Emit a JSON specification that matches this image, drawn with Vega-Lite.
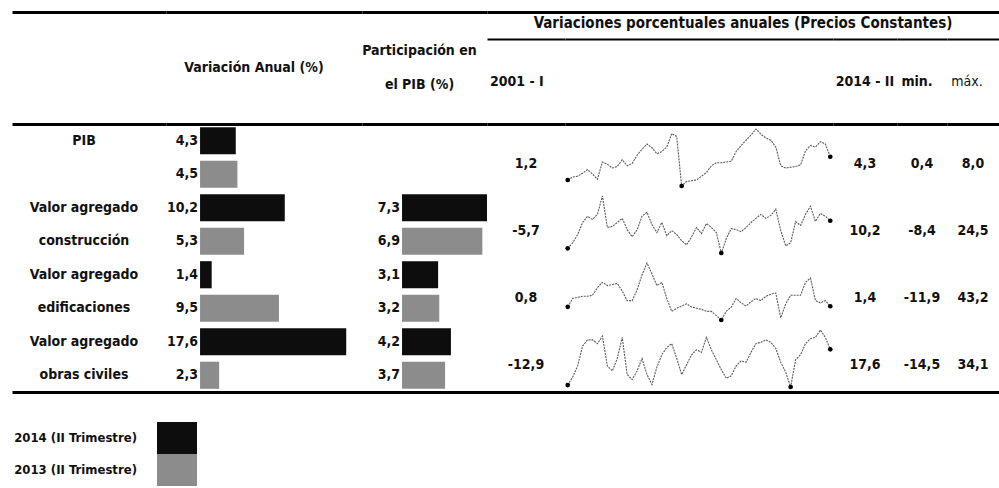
{
  "$schema": "https://vega.github.io/schema/vega-lite/v6.json",
  "padding": {"left": 12, "top": 12, "right": 0, "bottom": 0},
  "background": "white",
  "spacing": 0,
  "align": "each",
  "config": {
    "view": {"stroke": null},
    "text": {"font": "DejaVu Sans Condensed, DejaVu Sans, sans-serif", "fontSize": 14, "fontWeight": "bold", "color": "#111", "baseline": "middle"},
    "axis": {"domainColor": "#000", "domainWidth": 3, "ticks": false, "labels": false, "grid": false},
    "locale": {"number": {"decimal": ",", "thousands": ".", "grouping": [3], "currency": ["", ""], "minus": "-"}}
  },
  "datasets": {
    "hdr": [
      {"c": "c0", "txt": ""},
      {"c": "c1", "txt": "Variación Anual (%)"},
      {"c": "c2", "txt": ["Participación en", "el PIB (%)"]},
      {"c": "hr", "txt": "Variaciones porcentuales anuales  (Precios Constantes)"},
      {"c": "c3", "txt": "2001 - I"},
      {"c": "c4", "txt": ""},
      {"c": "c5", "txt": "2014 - II"},
      {"c": "c6", "txt": "min."},
      {"c": "c7", "txt": "máx."}
    ],
    "rows": [
      {"k": "r1", "label": "PIB", "anio": "2014 (II Trimestre)", "var": 4.3},
      {"k": "r2", "label": "", "anio": "2013 (II Trimestre)", "var": 4.5},
      {"k": "r3", "label": "Valor agregado", "anio": "2014 (II Trimestre)", "var": 10.2, "part": 7.3},
      {"k": "r4", "label": "construcción", "anio": "2013 (II Trimestre)", "var": 5.3, "part": 6.9},
      {"k": "r5", "label": "Valor agregado", "anio": "2014 (II Trimestre)", "var": 1.4, "part": 3.1},
      {"k": "r6", "label": "edificaciones", "anio": "2013 (II Trimestre)", "var": 9.5, "part": 3.2},
      {"k": "r7", "label": "Valor agregado", "anio": "2014 (II Trimestre)", "var": 17.6, "part": 4.2},
      {"k": "r8", "label": "obras civiles", "anio": "2013 (II Trimestre)", "var": 2.3, "part": 3.7}
    ],
    "sv": [
      {"s": "PIB", "ini": 1.2, "fin": 4.3, "minimo": 0.4, "maximo": 8.0},
      {"s": "con", "ini": -5.7, "fin": 10.2, "minimo": -8.4, "maximo": 24.5},
      {"s": "edi", "ini": 0.8, "fin": 1.4, "minimo": -11.9, "maximo": 43.2},
      {"s": "obr", "ini": -12.9, "fin": 17.6, "minimo": -14.5, "maximo": 34.1}
    ],
    "leg": [{"anio": "2014 (II Trimestre)"}, {"anio": "2013 (II Trimestre)"}],
    "spark": [
      {"s":"PIB","t":0,"v":1.2},{"s":"PIB","t":1,"v":1.6},{"s":"PIB","t":2,"v":1.7},{"s":"PIB","t":3,"v":2.1},{"s":"PIB","t":4,"v":2.6},{"s":"PIB","t":5,"v":2.0},{"s":"PIB","t":6,"v":1.3},{"s":"PIB","t":7,"v":3.6},{"s":"PIB","t":8,"v":3.3},{"s":"PIB","t":9,"v":2.8},{"s":"PIB","t":10,"v":3.0},{"s":"PIB","t":11,"v":3.9},{"s":"PIB","t":12,"v":3.1},{"s":"PIB","t":13,"v":3.4},{"s":"PIB","t":14,"v":4.5},{"s":"PIB","t":15,"v":5.3},{"s":"PIB","t":16,"v":6.0},{"s":"PIB","t":17,"v":5.5},{"s":"PIB","t":18,"v":4.7},{"s":"PIB","t":19,"v":5.0},{"s":"PIB","t":20,"v":5.6},{"s":"PIB","t":21,"v":7.4},{"s":"PIB","t":22,"v":7.0},{"s":"PIB","t":23,"v":0.4},{"s":"PIB","t":24,"v":1.0},{"s":"PIB","t":25,"v":1.1},{"s":"PIB","t":26,"v":1.2},{"s":"PIB","t":27,"v":1.7},{"s":"PIB","t":28,"v":2.2},{"s":"PIB","t":29,"v":3.1},{"s":"PIB","t":30,"v":3.5},{"s":"PIB","t":31,"v":3.5},{"s":"PIB","t":32,"v":3.6},{"s":"PIB","t":33,"v":3.7},{"s":"PIB","t":34,"v":5.0},{"s":"PIB","t":35,"v":5.8},{"s":"PIB","t":36,"v":6.5},{"s":"PIB","t":37,"v":7.2},{"s":"PIB","t":38,"v":8.0},{"s":"PIB","t":39,"v":7.3},{"s":"PIB","t":40,"v":6.8},{"s":"PIB","t":41,"v":6.5},{"s":"PIB","t":42,"v":5.6},{"s":"PIB","t":43,"v":3.1},{"s":"PIB","t":44,"v":2.8},{"s":"PIB","t":45,"v":2.9},{"s":"PIB","t":46,"v":3.0},{"s":"PIB","t":47,"v":3.2},{"s":"PIB","t":48,"v":5.1},{"s":"PIB","t":49,"v":5.8},{"s":"PIB","t":50,"v":5.6},{"s":"PIB","t":51,"v":6.3},{"s":"PIB","t":52,"v":6.0},{"s":"PIB","t":53,"v":4.3},
      {"s":"con","t":0,"v":-5.7},{"s":"con","t":1,"v":-2.5},{"s":"con","t":2,"v":2.2},{"s":"con","t":3,"v":9.2},{"s":"con","t":4,"v":12.8},{"s":"con","t":5,"v":11.0},{"s":"con","t":6,"v":13.9},{"s":"con","t":7,"v":24.5},{"s":"con","t":8,"v":6.3},{"s":"con","t":9,"v":6.9},{"s":"con","t":10,"v":9.2},{"s":"con","t":11,"v":11.6},{"s":"con","t":12,"v":5.1},{"s":"con","t":13,"v":1.0},{"s":"con","t":14,"v":5.0},{"s":"con","t":15,"v":12.8},{"s":"con","t":16,"v":15.1},{"s":"con","t":17,"v":8.0},{"s":"con","t":18,"v":3.4},{"s":"con","t":19,"v":9.2},{"s":"con","t":20,"v":1.6},{"s":"con","t":21,"v":4.5},{"s":"con","t":22,"v":2.2},{"s":"con","t":23,"v":-1.3},{"s":"con","t":24,"v":-3.7},{"s":"con","t":25,"v":1.0},{"s":"con","t":26,"v":6.3},{"s":"con","t":27,"v":2.8},{"s":"con","t":28,"v":8.6},{"s":"con","t":29,"v":6.3},{"s":"con","t":30,"v":3.4},{"s":"con","t":31,"v":-8.4},{"s":"con","t":32,"v":-0.2},{"s":"con","t":33,"v":5.7},{"s":"con","t":34,"v":5.1},{"s":"con","t":35,"v":3.9},{"s":"con","t":36,"v":6.3},{"s":"con","t":37,"v":9.2},{"s":"con","t":38,"v":11.6},{"s":"con","t":39,"v":13.9},{"s":"con","t":40,"v":11.6},{"s":"con","t":41,"v":13.3},{"s":"con","t":42,"v":16.9},{"s":"con","t":43,"v":4.5},{"s":"con","t":44,"v":-4.3},{"s":"con","t":45,"v":-2.5},{"s":"con","t":46,"v":9.8},{"s":"con","t":47,"v":7.5},{"s":"con","t":48,"v":13.9},{"s":"con","t":49,"v":18.6},{"s":"con","t":50,"v":9.8},{"s":"con","t":51,"v":14.5},{"s":"con","t":52,"v":12.8},{"s":"con","t":53,"v":10.2},
      {"s":"edi","t":0,"v":0.8},{"s":"edi","t":1,"v":8.9},{"s":"edi","t":2,"v":10.0},{"s":"edi","t":3,"v":11.0},{"s":"edi","t":4,"v":11.0},{"s":"edi","t":5,"v":12.0},{"s":"edi","t":6,"v":19.3},{"s":"edi","t":7,"v":24.5},{"s":"edi","t":8,"v":21.4},{"s":"edi","t":9,"v":22.4},{"s":"edi","t":10,"v":23.5},{"s":"edi","t":11,"v":16.2},{"s":"edi","t":12,"v":6.8},{"s":"edi","t":13,"v":6.8},{"s":"edi","t":14,"v":17.2},{"s":"edi","t":15,"v":31.8},{"s":"edi","t":16,"v":43.2},{"s":"edi","t":17,"v":32.8},{"s":"edi","t":18,"v":21.4},{"s":"edi","t":19,"v":24.5},{"s":"edi","t":20,"v":8.9},{"s":"edi","t":21,"v":-3.6},{"s":"edi","t":22,"v":-0.5},{"s":"edi","t":23,"v":1.6},{"s":"edi","t":24,"v":3.7},{"s":"edi","t":25,"v":0.6},{"s":"edi","t":26,"v":-0.5},{"s":"edi","t":27,"v":-1.5},{"s":"edi","t":28,"v":-3.6},{"s":"edi","t":29,"v":-3.6},{"s":"edi","t":30,"v":-7.7},{"s":"edi","t":31,"v":-11.9},{"s":"edi","t":32,"v":-3.6},{"s":"edi","t":33,"v":0.6},{"s":"edi","t":34,"v":8.9},{"s":"edi","t":35,"v":4.7},{"s":"edi","t":36,"v":1.6},{"s":"edi","t":37,"v":5.8},{"s":"edi","t":38,"v":8.9},{"s":"edi","t":39,"v":6.8},{"s":"edi","t":40,"v":11.0},{"s":"edi","t":41,"v":13.1},{"s":"edi","t":42,"v":14.1},{"s":"edi","t":43,"v":-9.8},{"s":"edi","t":44,"v":3.7},{"s":"edi","t":45,"v":12.0},{"s":"edi","t":46,"v":12.0},{"s":"edi","t":47,"v":12.0},{"s":"edi","t":48,"v":24.5},{"s":"edi","t":49,"v":28.7},{"s":"edi","t":50,"v":6.8},{"s":"edi","t":51,"v":4.7},{"s":"edi","t":52,"v":6.8},{"s":"edi","t":53,"v":1.4},
      {"s":"obr","t":0,"v":-12.9},{"s":"obr","t":1,"v":-6.0},{"s":"obr","t":2,"v":3.5},{"s":"obr","t":3,"v":20.4},{"s":"obr","t":4,"v":25.7},{"s":"obr","t":5,"v":25.7},{"s":"obr","t":6,"v":22.5},{"s":"obr","t":7,"v":28.8},{"s":"obr","t":8,"v":3.5},{"s":"obr","t":9,"v":-0.8},{"s":"obr","t":10,"v":9.8},{"s":"obr","t":11,"v":27.8},{"s":"obr","t":12,"v":-3.9},{"s":"obr","t":13,"v":-8.2},{"s":"obr","t":14,"v":-0.8},{"s":"obr","t":15,"v":9.8},{"s":"obr","t":16,"v":-3.9},{"s":"obr","t":17,"v":-12.4},{"s":"obr","t":18,"v":2.4},{"s":"obr","t":19,"v":13.0},{"s":"obr","t":20,"v":19.3},{"s":"obr","t":21,"v":22.5},{"s":"obr","t":22,"v":9.8},{"s":"obr","t":23,"v":-3.9},{"s":"obr","t":24,"v":4.5},{"s":"obr","t":25,"v":13.0},{"s":"obr","t":26,"v":17.2},{"s":"obr","t":27,"v":15.1},{"s":"obr","t":28,"v":27.8},{"s":"obr","t":29,"v":17.2},{"s":"obr","t":30,"v":8.8},{"s":"obr","t":31,"v":0.3},{"s":"obr","t":32,"v":-7.1},{"s":"obr","t":33,"v":-5.0},{"s":"obr","t":34,"v":3.5},{"s":"obr","t":35,"v":7.7},{"s":"obr","t":36,"v":6.6},{"s":"obr","t":37,"v":15.1},{"s":"obr","t":38,"v":22.5},{"s":"obr","t":39,"v":23.6},{"s":"obr","t":40,"v":25.7},{"s":"obr","t":41,"v":23.6},{"s":"obr","t":42,"v":18.3},{"s":"obr","t":43,"v":6.6},{"s":"obr","t":44,"v":-1.8},{"s":"obr","t":45,"v":-14.5},{"s":"obr","t":46,"v":8.8},{"s":"obr","t":47,"v":13.0},{"s":"obr","t":48,"v":22.5},{"s":"obr","t":49,"v":26.7},{"s":"obr","t":50,"v":27.8},{"s":"obr","t":51,"v":34.1},{"s":"obr","t":52,"v":27.8},{"s":"obr","t":53,"v":17.6}
    ]
  },
  "vconcat": [
    {
      "hconcat": [
        {"width": 154, "height": 112, "data": {"name": "hdr"}, "transform": [{"filter": "datum.c === 'c0'"}],
         "mark": {"type": "text"},
         "encoding": {"x": {"datum": 0.5, "type": "quantitative", "scale": {"domain": [0, 1]}, "axis": {"orient": "top", "title": null}}, "text": {"field": "txt"}}},
        {"width": 196, "height": 112, "data": {"name": "hdr"}, "transform": [{"filter": "datum.c === 'c1'"}],
         "mark": {"type": "text", "dx": -10},
         "encoding": {"x": {"datum": 0.5, "type": "quantitative", "scale": {"domain": [0, 1]}, "axis": {"orient": "top", "title": null}}, "text": {"field": "txt"}}},
        {"width": 125, "height": 112, "data": {"name": "hdr"}, "transform": [{"filter": "datum.c === 'c2'"}],
         "mark": {"type": "text", "dx": -5, "dy": -17, "lineHeight": 34},
         "encoding": {"x": {"datum": 0.5, "type": "quantitative", "scale": {"domain": [0, 1]}, "axis": {"orient": "top", "title": null}}, "text": {"field": "txt"}}},
        {
          "vconcat": [
            {"width": 512, "height": 27, "data": {"name": "hdr"}, "transform": [{"filter": "datum.c === 'hr'"}],
             "mark": {"type": "text", "dy": -3, "fontSize": 15},
             "encoding": {"x": {"datum": 0.5, "type": "quantitative", "scale": {"domain": [0, 1]}, "axis": {"orient": "top", "title": null}}, "text": {"field": "txt"}}},
            {
              "hconcat": [
                {"width": 78, "height": 85, "data": {"name": "hdr"}, "transform": [{"filter": "datum.c === 'c3'"}],
                 "mark": {"type": "text", "align": "left", "dx": 3},
                 "encoding": {"x": {"datum": 0, "type": "quantitative", "scale": {"domain": [0, 1]}, "axis": {"orient": "top", "title": null, "domainWidth": 2}}, "text": {"field": "txt"}}},
                {"width": 268, "height": 85, "data": {"name": "hdr"}, "transform": [{"filter": "datum.c === 'c4'"}],
                 "mark": {"type": "text"},
                 "encoding": {"x": {"datum": 0.5, "type": "quantitative", "scale": {"domain": [0, 1]}, "axis": {"orient": "top", "title": null, "domainWidth": 2}}, "text": {"field": "txt"}}},
                {"width": 64, "height": 85, "data": {"name": "hdr"}, "transform": [{"filter": "datum.c === 'c5'"}],
                 "mark": {"type": "text"},
                 "encoding": {"x": {"datum": 0.5, "type": "quantitative", "scale": {"domain": [0, 1]}, "axis": {"orient": "top", "title": null, "domainWidth": 2}}, "text": {"field": "txt"}}},
                {"width": 50, "height": 85, "data": {"name": "hdr"}, "transform": [{"filter": "datum.c === 'c6'"}],
                 "mark": {"type": "text", "dx": -5},
                 "encoding": {"x": {"datum": 0.5, "type": "quantitative", "scale": {"domain": [0, 1]}, "axis": {"orient": "top", "title": null, "domainWidth": 2}}, "text": {"field": "txt"}}},
                {"width": 52, "height": 85, "data": {"name": "hdr"}, "transform": [{"filter": "datum.c === 'c7'"}],
                 "mark": {"type": "text", "dx": -6, "fontWeight": "normal"},
                 "encoding": {"x": {"datum": 0.5, "type": "quantitative", "scale": {"domain": [0, 1]}, "axis": {"orient": "top", "title": null, "domainWidth": 2}}, "text": {"field": "txt"}}}
              ],
              "spacing": 0, "align": "each"
            }
          ],
          "spacing": 0, "align": "each"
        }
      ],
      "spacing": 0, "align": "each"
    },
    {
      "hconcat": [
        {"width": 154, "height": 268, "data": {"name": "rows"},
         "mark": {"type": "text", "dx": -5},
         "encoding": {
           "x": {"datum": 0.5, "type": "quantitative", "scale": {"domain": [0, 1]}, "axis": {"orient": "top", "title": null}},
           "y": {"field": "k", "type": "nominal", "scale": {"type": "point", "domain": ["r1","r2","r3","r4","r5","r6","r7","r8"], "padding": 0.5}, "axis": null},
           "text": {"field": "label"}}},
        {"width": 196, "height": 268, "data": {"name": "rows"},
         "encoding": {"y": {"field": "k", "type": "nominal", "scale": {"type": "band", "domain": ["r1","r2","r3","r4","r5","r6","r7","r8"], "paddingInner": 0.19, "paddingOuter": 0.095}, "axis": null}},
         "layer": [
           {"mark": {"type": "bar"},
            "encoding": {
              "x": {"field": "var", "type": "quantitative", "scale": {"domain": [-4.1, 19.5], "nice": false, "zero": false}, "axis": {"orient": "top", "title": null}},
              "color": {"field": "anio", "type": "nominal", "scale": {"domain": ["2014 (II Trimestre)", "2013 (II Trimestre)"], "range": ["#0d0d0d", "#8c8c8c"]}, "legend": null}}},
           {"mark": {"type": "text", "align": "right", "dx": -2},
            "encoding": {"x": {"datum": 0, "type": "quantitative"}, "text": {"field": "var", "type": "quantitative", "format": ".1f"}}}
         ]},
        {"width": 125, "height": 268, "data": {"name": "rows"},
         "transform": [{"filter": "isValid(datum.part)"}],
         "encoding": {"y": {"field": "k", "type": "nominal", "scale": {"type": "band", "domain": ["r1","r2","r3","r4","r5","r6","r7","r8"], "paddingInner": 0.19, "paddingOuter": 0.095}, "axis": null}},
         "layer": [
           {"mark": {"type": "bar"},
            "encoding": {
              "x": {"field": "part", "type": "quantitative", "scale": {"domain": [-3.44, 7.3], "nice": false, "zero": false}, "axis": {"orient": "top", "title": null}},
              "color": {"field": "anio", "type": "nominal", "scale": {"domain": ["2014 (II Trimestre)", "2013 (II Trimestre)"], "range": ["#0d0d0d", "#8c8c8c"]}, "legend": null}}},
           {"mark": {"type": "text", "align": "right", "dx": -2},
            "encoding": {"x": {"datum": 0, "type": "quantitative"}, "text": {"field": "part", "type": "quantitative", "format": ".1f"}}}
         ]},
        {"width": 78, "height": 268, "data": {"name": "sv"},
         "mark": {"type": "text", "dy": 6},
         "encoding": {
           "x": {"datum": 0.5, "type": "quantitative", "scale": {"domain": [0, 1]}, "axis": {"orient": "top", "title": null}},
           "y": {"field": "s", "type": "nominal", "scale": {"type": "point", "domain": ["PIB","con","edi","obr"], "padding": 0.5}, "axis": null},
           "text": {"field": "ini", "type": "quantitative", "format": ".1f"}}},
        {
          "vconcat": [
            {"width": 268, "height": 67, "data": {"name": "spark"}, "transform": [{"filter": "datum.s === 'PIB'"}],
             "encoding": {
               "x": {"field": "t", "type": "quantitative", "scale": {"domain": [-0.55, 53.55], "nice": false, "zero": false}, "axis": {"orient": "top", "title": null}},
               "y": {"field": "v", "type": "quantitative", "scale": {"zero": false, "nice": false, "padding": 5}, "axis": null}},
             "layer": [
               {"mark": {"type": "line", "color": "#5a5a5a", "strokeWidth": 1.1, "strokeDash": [2, 1]}, "encoding": {}},
               {"transform": [{"joinaggregate": [{"op": "min", "field": "v", "as": "vmin"}, {"op": "min", "field": "t", "as": "t0"}, {"op": "max", "field": "t", "as": "t1"}]}, {"filter": "datum.v === datum.vmin || datum.t === datum.t0 || datum.t === datum.t1"}],
                "mark": {"type": "point", "filled": true, "color": "#000", "size": 22, "opacity": 1}, "encoding": {}}
             ]},
            {"width": 268, "height": 67, "data": {"name": "spark"}, "transform": [{"filter": "datum.s === 'con'"}],
             "encoding": {
               "x": {"field": "t", "type": "quantitative", "scale": {"domain": [-0.55, 53.55], "nice": false, "zero": false}, "axis": null},
               "y": {"field": "v", "type": "quantitative", "scale": {"zero": false, "nice": false, "padding": 5}, "axis": null}},
             "layer": [
               {"mark": {"type": "line", "color": "#5a5a5a", "strokeWidth": 1.1, "strokeDash": [2, 1]}, "encoding": {}},
               {"transform": [{"joinaggregate": [{"op": "min", "field": "v", "as": "vmin"}, {"op": "min", "field": "t", "as": "t0"}, {"op": "max", "field": "t", "as": "t1"}]}, {"filter": "datum.v === datum.vmin || datum.t === datum.t0 || datum.t === datum.t1"}],
                "mark": {"type": "point", "filled": true, "color": "#000", "size": 22, "opacity": 1}, "encoding": {}}
             ]},
            {"width": 268, "height": 67, "data": {"name": "spark"}, "transform": [{"filter": "datum.s === 'edi'"}],
             "encoding": {
               "x": {"field": "t", "type": "quantitative", "scale": {"domain": [-0.55, 53.55], "nice": false, "zero": false}, "axis": null},
               "y": {"field": "v", "type": "quantitative", "scale": {"zero": false, "nice": false, "padding": 5}, "axis": null}},
             "layer": [
               {"mark": {"type": "line", "color": "#5a5a5a", "strokeWidth": 1.1, "strokeDash": [2, 1]}, "encoding": {}},
               {"transform": [{"joinaggregate": [{"op": "min", "field": "v", "as": "vmin"}, {"op": "min", "field": "t", "as": "t0"}, {"op": "max", "field": "t", "as": "t1"}]}, {"filter": "datum.v === datum.vmin || datum.t === datum.t0 || datum.t === datum.t1"}],
                "mark": {"type": "point", "filled": true, "color": "#000", "size": 22, "opacity": 1}, "encoding": {}}
             ]},
            {"width": 268, "height": 67, "data": {"name": "spark"}, "transform": [{"filter": "datum.s === 'obr'"}],
             "encoding": {
               "x": {"field": "t", "type": "quantitative", "scale": {"domain": [-0.55, 53.55], "nice": false, "zero": false}, "axis": null},
               "y": {"field": "v", "type": "quantitative", "scale": {"zero": false, "nice": false, "padding": 5}, "axis": null}},
             "layer": [
               {"mark": {"type": "line", "color": "#5a5a5a", "strokeWidth": 1.1, "strokeDash": [2, 1]}, "encoding": {}},
               {"transform": [{"joinaggregate": [{"op": "min", "field": "v", "as": "vmin"}, {"op": "min", "field": "t", "as": "t0"}, {"op": "max", "field": "t", "as": "t1"}]}, {"filter": "datum.v === datum.vmin || datum.t === datum.t0 || datum.t === datum.t1"}],
                "mark": {"type": "point", "filled": true, "color": "#000", "size": 22, "opacity": 1}, "encoding": {}}
             ]}
          ],
          "spacing": 0, "align": "each"
        },
        {"width": 64, "height": 268, "data": {"name": "sv"},
         "mark": {"type": "text", "dy": 6},
         "encoding": {
           "x": {"datum": 0.5, "type": "quantitative", "scale": {"domain": [0, 1]}, "axis": {"orient": "top", "title": null}},
           "y": {"field": "s", "type": "nominal", "scale": {"type": "point", "domain": ["PIB","con","edi","obr"], "padding": 0.5}, "axis": null},
           "text": {"field": "fin", "type": "quantitative", "format": ".1f"}}},
        {"width": 50, "height": 268, "data": {"name": "sv"},
         "mark": {"type": "text", "dy": 6},
         "encoding": {
           "x": {"datum": 0.5, "type": "quantitative", "scale": {"domain": [0, 1]}, "axis": {"orient": "top", "title": null}},
           "y": {"field": "s", "type": "nominal", "scale": {"type": "point", "domain": ["PIB","con","edi","obr"], "padding": 0.5}, "axis": null},
           "text": {"field": "minimo", "type": "quantitative", "format": ".1f"}}},
        {"width": 52, "height": 268, "data": {"name": "sv"},
         "mark": {"type": "text", "dy": 6},
         "encoding": {
           "x": {"datum": 0.5, "type": "quantitative", "scale": {"domain": [0, 1]}, "axis": {"orient": "top", "title": null}},
           "y": {"field": "s", "type": "nominal", "scale": {"type": "point", "domain": ["PIB","con","edi","obr"], "padding": 0.5}, "axis": null},
           "text": {"field": "maximo", "type": "quantitative", "format": ".1f"}}}
      ],
      "spacing": 0, "align": "each"
    },
    {"width": 987, "height": 30, "data": {"name": "hdr"}, "transform": [{"filter": "datum.c === 'c0'"}],
     "mark": {"type": "text"},
     "encoding": {"x": {"datum": 0.5, "type": "quantitative", "scale": {"domain": [0, 1]}, "axis": {"orient": "top", "title": null}}, "text": {"field": "txt"}}},
    {
      "hconcat": [
        {"width": 125, "height": 64, "data": {"name": "leg"},
         "mark": {"type": "text", "align": "right", "fontSize": 13},
         "encoding": {
           "x": {"datum": 1, "type": "quantitative", "scale": {"domain": [0, 1]}, "axis": null},
           "y": {"field": "anio", "type": "nominal", "scale": {"type": "point", "domain": ["2014 (II Trimestre)", "2013 (II Trimestre)"], "padding": 0.5}, "axis": null},
           "text": {"field": "anio"}}},
        {"width": 40, "height": 64, "data": {"name": "leg"},
         "mark": {"type": "bar"},
         "encoding": {
           "x": {"datum": 0, "type": "quantitative", "scale": {"domain": [0, 1]}, "axis": null},
           "x2": {"datum": 1},
           "y": {"field": "anio", "type": "nominal", "scale": {"type": "band", "domain": ["2014 (II Trimestre)", "2013 (II Trimestre)"], "paddingInner": 0, "paddingOuter": 0}, "axis": null},
           "color": {"field": "anio", "type": "nominal", "scale": {"domain": ["2014 (II Trimestre)", "2013 (II Trimestre)"], "range": ["#0d0d0d", "#8c8c8c"]}, "legend": null}}}
      ],
      "spacing": 20, "align": "each"
    }
  ]
}
